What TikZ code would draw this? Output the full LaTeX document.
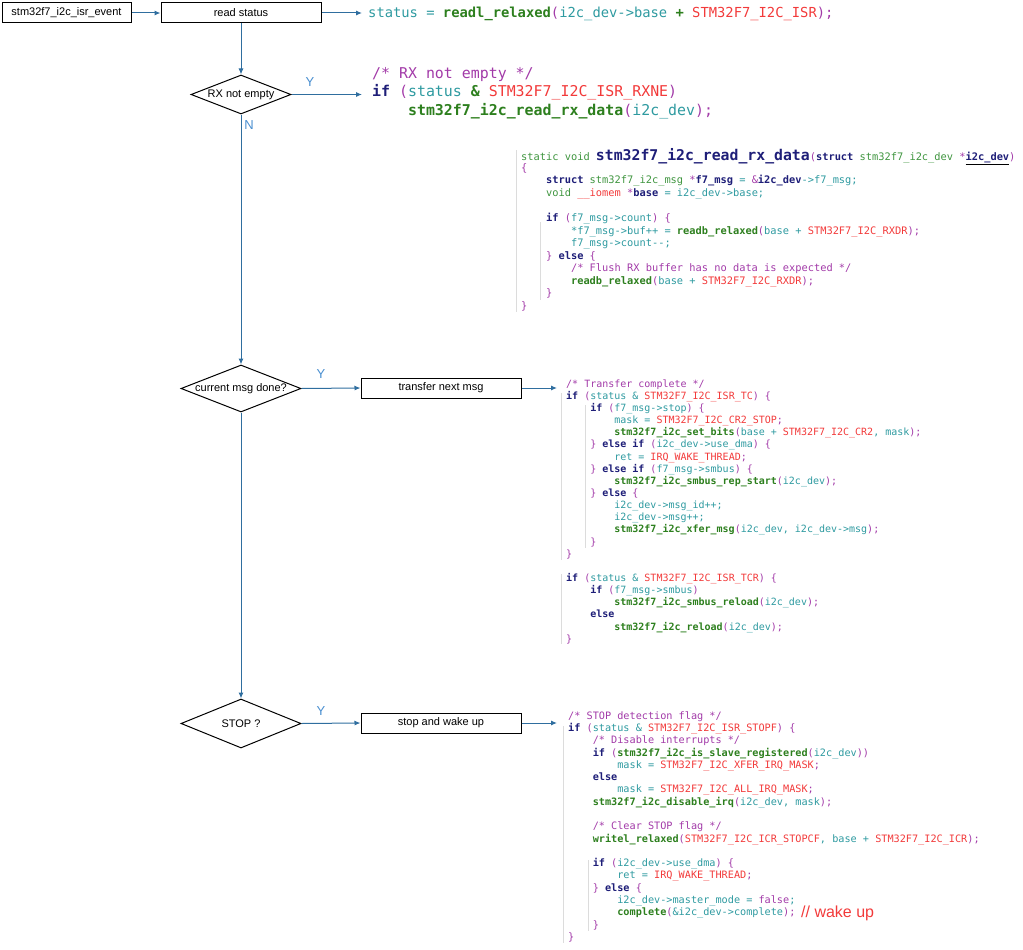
\documentclass[tikz,border=0pt]{standalone}
\usepackage{fontspec}
\setmainfont{Liberation Sans}
\newfontfamily\codefont{DejaVu Sans Mono}
\usetikzlibrary{shapes.geometric,arrows.meta}
\definecolor{kwc}{HTML}{1E1E78}
\definecolor{fnc}{HTML}{2D7F1E}
\definecolor{macc}{HTML}{F23A3A}
\definecolor{varc}{HTML}{2E9AA0}
\definecolor{punc}{HTML}{A23AA8}
\definecolor{typc}{HTML}{3F953F}
\definecolor{arrc}{HTML}{2F6E9F}
\definecolor{ync}{HTML}{4A8FD0}
\definecolor{guidec}{HTML}{DCDCDC}
\newcommand\cK[1]{\textcolor{kwc}{\bfseries #1}}
\newcommand\cF[1]{\textcolor{fnc}{\bfseries #1}}
\newcommand\cM[1]{\textcolor{macc}{#1}}
\newcommand\cV[1]{\textcolor{varc}{#1}}
\newcommand\cP[1]{\textcolor{punc}{#1}}
\newcommand\cT[1]{\textcolor{typc}{#1}}
\newcommand\iA{\hphantom{0000}}
\newcommand\iB{\hphantom{00000000}}
\begin{document}
\begin{tikzpicture}[x=1pt,y=-1pt,
  fbox/.style={draw=black,line width=1pt,minimum height=20pt,inner sep=0pt,font=\fontsize{11}{13}\selectfont},
  dec/.style={draw=black,line width=1pt,shape=diamond,inner sep=0pt,shape aspect=2.5,font=\fontsize{11}{13}\selectfont},
  arr/.style={draw=arrc,line width=1pt,-{Latex[length=6pt,width=5pt]}},
  yn/.style={text=ync,font=\fontsize{13}{15}\selectfont,inner sep=0pt},
  code/.style={anchor=north west,align=left,inner ysep=0pt,font=\codefont},
  guide/.style={draw=guidec,line width=0.7pt}]
\useasboundingbox (0,0) rectangle (1023,950);

% flowchart nodes
\node[fbox,minimum width=129pt] (isr) at (66.5,13) {stm32f7\_i2c\_isr\_event};
\node[fbox,minimum width=160pt] (rs) at (241,13) {read status};
\node[dec,minimum width=100pt,minimum height=39pt] (rx) at (241,94.5) {RX not empty};
\node[dec,minimum width=120pt,minimum height=47pt] (cmd) at (241,388.5) {current msg done?};
\node[fbox,minimum width=160pt] (tnm) at (441,388) {transfer next msg};
\node[dec,minimum width=120pt,minimum height=49pt] (stp) at (241,723.5) {STOP ?};
\node[fbox,minimum width=160pt] (swu) at (441,723) {stop and wake up};

% labels
\node[yn] (y1) at (310,82) {Y};
\node[yn] (n1) at (249,125) {N};
\node[yn] (y2) at (321,374) {Y};
\node[yn] (y3) at (321,711) {Y};

% code: top line
\node[code,inner xsep=6pt,font=\codefont\fontsize{13.8}{16}\selectfont] (c0) at (362,6.5)
 {\cV{status =} \cF{readl\_relaxed}\cP{(}\cV{i2c\_dev->base} \cF{+} \cM{STM32F7\_I2C\_ISR}\cP{);}};

% code: RX
\node[code,inner xsep=10pt,font=\codefont\fontsize{14.9}{18.5}\selectfont] (c1) at (362,67)
 {\cP{/* RX not empty */}\\
  \cK{if} \cP{(}\cV{status} \cF{\&} \cM{STM32F7\_I2C\_ISR\_RXNE}\cP{)}\\
  \iA\cF{stm32f7\_i2c\_read\_rx\_data}\cP{(}\cV{i2c\_dev}\cP{);}};

% code: read_rx_data header
\node[code,inner xsep=0pt] (c2h) at (521,148)
 {{\fontsize{10.35}{12}\selectfont\cT{static void }}{\fontsize{14.8}{16}\selectfont\cK{stm32f7\_i2c\_read\_rx\_data}}{\fontsize{10.35}{12}\selectfont\cP{(}\cK{struct} \cT{stm32f7\_i2c\_dev} \cP{*}\underline{\cK{i2c\_dev}}\cP{)}}};

% code: read_rx_data body
\node[code,inner xsep=0pt,font=\codefont\fontsize{10.35}{12.55}\selectfont] (c2) at (521,163.2)
 {\cP{\{}\\
  \iA\cK{struct} \cT{stm32f7\_i2c\_msg} \cP{*}\cK{f7\_msg} \cV{=} \cP{\&}\cK{i2c\_dev}\cV{->f7\_msg;}\\
  \iA\cT{void} \cM{\_\_iomem} \cP{*}\cK{base} \cV{= i2c\_dev->base;}\\
  \\
  \iA\cK{if} \cP{(}\cV{f7\_msg->count}\cP{) \{}\\
  \iB\cV{*f7\_msg->buf++ =} \cF{readb\_relaxed}\cP{(}\cV{base +} \cM{STM32F7\_I2C\_RXDR}\cP{);}\\
  \iB\cV{f7\_msg->count-{}-;}\\
  \iA\cP{\}} \cK{else} \cP{\{}\\
  \iB\cP{/* Flush RX buffer has no data is expected */}\\
  \iB\cF{readb\_relaxed}\cP{(}\cV{base +} \cM{STM32F7\_I2C\_RXDR}\cP{);}\\
  \iA\cP{\}}\\
  \cP{\}}};

% code: transfer complete
\node[code,inner xsep=9pt,font=\codefont\fontsize{10}{12.14}\selectfont] (c3) at (557,379.4)
 {\cP{/* Transfer complete */}\\
  \cK{if} \cP{(}\cV{status \&} \cM{STM32F7\_I2C\_ISR\_TC}\cP{) \{}\\
  \iA\cK{if} \cP{(}\cV{f7\_msg->stop}\cP{) \{}\\
  \iB\cV{mask =} \cM{STM32F7\_I2C\_CR2\_STOP}\cP{;}\\
  \iB\cF{stm32f7\_i2c\_set\_bits}\cP{(}\cV{base +} \cM{STM32F7\_I2C\_CR2}\cV{, mask}\cP{);}\\
  \iA\cP{\}} \cK{else if} \cP{(}\cV{i2c\_dev->use\_dma}\cP{) \{}\\
  \iB\cV{ret =} \cM{IRQ\_WAKE\_THREAD}\cP{;}\\
  \iA\cP{\}} \cK{else if} \cP{(}\cV{f7\_msg->smbus}\cP{) \{}\\
  \iB\cF{stm32f7\_i2c\_smbus\_rep\_start}\cP{(}\cV{i2c\_dev}\cP{);}\\
  \iA\cP{\}} \cK{else} \cP{\{}\\
  \iB\cV{i2c\_dev->msg\_id++;}\\
  \iB\cV{i2c\_dev->msg++;}\\
  \iB\cF{stm32f7\_i2c\_xfer\_msg}\cP{(}\cV{i2c\_dev, i2c\_dev->msg}\cP{);}\\
  \iA\cP{\}}\\
  \cP{\}}\\
  \\
  \cK{if} \cP{(}\cV{status \&} \cM{STM32F7\_I2C\_ISR\_TCR}\cP{) \{}\\
  \iA\cK{if} \cP{(}\cV{f7\_msg->smbus}\cP{)}\\
  \iB\cF{stm32f7\_i2c\_smbus\_reload}\cP{(}\cV{i2c\_dev}\cP{);}\\
  \iA\cK{else}\\
  \iB\cF{stm32f7\_i2c\_reload}\cP{(}\cV{i2c\_dev}\cP{);}\\
  \cP{\}}};

% code: STOP
\node[code,inner xsep=11pt,font=\codefont\fontsize{10.2}{12.28}\selectfont] (c4) at (557,711.3)
 {\cP{/* STOP detection flag */}\\
  \cK{if} \cP{(}\cV{status \&} \cM{STM32F7\_I2C\_ISR\_STOPF}\cP{) \{}\\
  \iA\cP{/* Disable interrupts */}\\
  \iA\cK{if} \cP{(}\cF{stm32f7\_i2c\_is\_slave\_registered}\cP{(}\cV{i2c\_dev}\cP{))}\\
  \iB\cV{mask =} \cM{STM32F7\_I2C\_XFER\_IRQ\_MASK}\cP{;}\\
  \iA\cK{else}\\
  \iB\cV{mask =} \cM{STM32F7\_I2C\_ALL\_IRQ\_MASK}\cP{;}\\
  \iA\cF{stm32f7\_i2c\_disable\_irq}\cP{(}\cV{i2c\_dev, mask}\cP{);}\\
  \\
  \iA\cP{/* Clear STOP flag */}\\
  \iA\cF{writel\_relaxed}\cP{(}\cM{STM32F7\_I2C\_ICR\_STOPCF}\cV{, base +} \cM{STM32F7\_I2C\_ICR}\cP{);}\\
  \\
  \iA\cK{if} \cP{(}\cV{i2c\_dev->use\_dma}\cP{) \{}\\
  \iB\cV{ret =} \cM{IRQ\_WAKE\_THREAD}\cP{;}\\
  \iA\cP{\}} \cK{else} \cP{\{}\\
  \iB\cV{i2c\_dev->master\_mode =} \cP{false}\cV{;}\\
  \iB\cF{complete}\cP{(}\cV{\&i2c\_dev->complete}\cP{);}\\
  \iA\cP{\}}\\
  \cP{\}}};

\node[anchor=base west,inner sep=0pt,text=macc,font=\fontsize{16}{18}\selectfont] (wk) at (801,917) {// wake up};

% indent guides
\draw[guide] (516,150) -- (516,312);
\draw[guide] (540,222) -- (540,300);
\draw[guide] (561,393) -- (561,560);
\draw[guide] (585,405) -- (585,548);
\draw[guide] (561,574) -- (561,644);
\draw[guide] (563,726) -- (563,943);
\draw[guide] (588,860) -- (588,931);

% connectors
\draw[arr] (isr) -- (rs);
\draw[arr] (rs.east) -- (rs.east -| c0.west);
\draw[arr] (rs) -- (rx.north);
\draw[arr] (rx.east) -- (rx.east -| c1.west);
\draw[arr] (rx.south) -- (cmd.north);
\draw[arr] (cmd.east) -- (tnm.west);
\draw[arr] (tnm.east) -- (tnm.east -| c3.west);
\draw[arr] (cmd.south) -- (stp.north);
\draw[arr] (stp.east) -- (swu.west);
\draw[arr] (swu.east) -- (swu.east -| c4.west);
\end{tikzpicture}
\end{document}
